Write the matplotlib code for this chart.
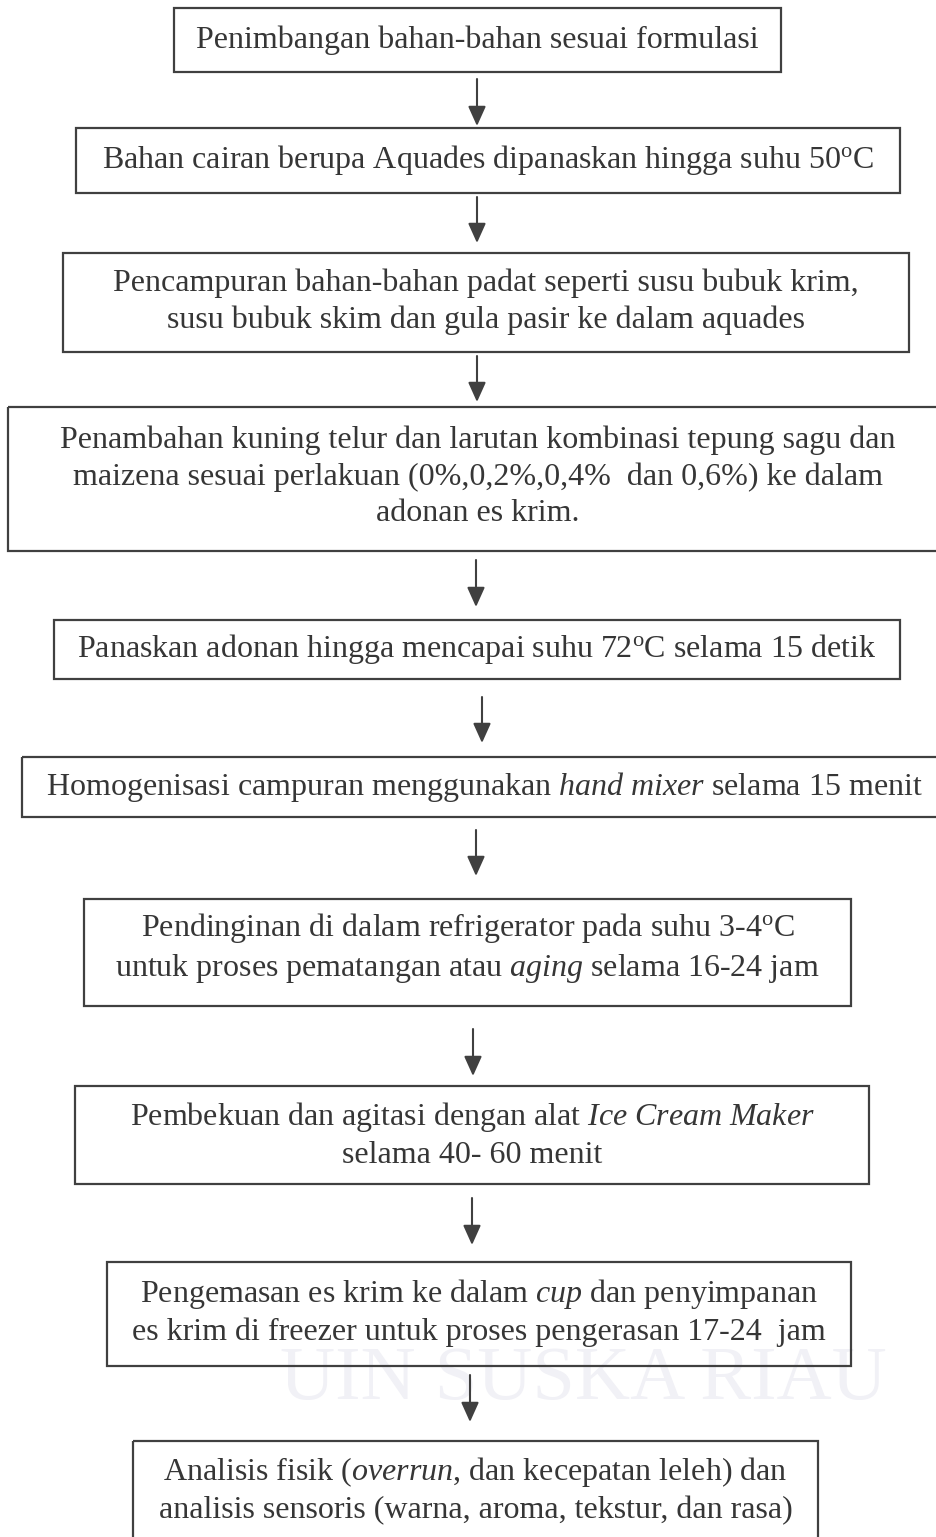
import matplotlib
matplotlib.use("Agg")
import matplotlib.pyplot as plt
from matplotlib.patches import Rectangle

plt.rcParams['font.family'] = ['Liberation Serif', 'DejaVu Serif']
plt.rcParams['mathtext.fontset'] = 'custom'
plt.rcParams['mathtext.rm'] = 'Liberation Serif'
plt.rcParams['mathtext.it'] = 'Liberation Serif:italic'
plt.rcParams['mathtext.default'] = 'rm'

# Step texts of the flowchart (top to bottom)
steps = [
    "Penimbangan bahan-bahan sesuai formulasi",
    "Bahan cairan berupa Aquades dipanaskan hingga suhu 50$^{\\mathrm{o}}$C",
    "Pencampuran bahan-bahan padat seperti susu bubuk krim,\nsusu bubuk skim dan gula pasir ke dalam aquades",
    "Penambahan kuning telur dan larutan kombinasi tepung sagu dan\nmaizena sesuai perlakuan (0%,0,2%,0,4%  dan 0,6%) ke dalam\nadonan es krim.",
    "Panaskan adonan hingga mencapai suhu 72$^{\\mathrm{o}}$C selama 15 detik",
    "Homogenisasi campuran menggunakan $\\mathit{hand\\ mixer}$ selama 15 menit",
    "Pendinginan di dalam refrigerator pada suhu 3-4$^{\\mathrm{o}}$C\nuntuk proses pematangan atau $\\mathit{aging}$ selama 16-24 jam",
    "Pembekuan dan agitasi dengan alat $\\mathit{Ice\\ Cream\\ Maker}$\nselama 40- 60 menit",
    "Pengemasan es krim ke dalam $\\mathit{cup}$ dan penyimpanan\nes krim di freezer untuk proses pengerasan 17-24  jam",
    "Analisis fisik ($\\mathit{overrun}$, dan kecepatan leleh) dan\nanalisis sensoris (warna, aroma, tekstur, dan rasa)",
]

# Layout: box (left, top, right, bottom) in pixels
boxes = [
    (174, 8, 781, 72),
    (76, 128, 900, 193),
    (63, 253, 909, 352),
    (8, 407, 948, 551),
    (54, 620, 900, 679),
    (22, 757, 946, 817),
    (84, 899, 851, 1006),
    (75, 1086, 869, 1184),
    (107, 1262, 851, 1366),
    (133, 1441, 818, 1540),
]
text_y = [40, 160, 302, 477, 649, 787, 948, 1135, 1312, 1490]
arrows = [
    (477, 79, 126), (477, 197, 243), (477, 356, 402), (476, 560, 607),
    (482, 697, 743), (476, 830, 876), (473, 1029, 1076), (472, 1198, 1245),
    (470, 1375, 1422),
]

W, H = 936, 1537
fig = plt.figure(figsize=(W / 100, H / 100), dpi=100)
ax = fig.add_axes([0, 0, 1, 1])
ax.set_xlim(0, W)
ax.set_ylim(H, 0)
ax.axis('off')

# faint watermark
ax.text(280, 1380, "UIN SUSKA RIAU", fontsize=55, color='#f1f1f6',
        ha='left', va='center', zorder=0)

edge = '#404040'
txtc = '#363636'
for (l, t, r, b), s, ty in zip(boxes, steps, text_y):
    ax.add_patch(Rectangle((l, t), r - l, b - t, fill=False, ec=edge, lw=1.6, zorder=2))
    ax.text((l + r) / 2, ty, s, ha='center', va='center', fontsize=23,
            color=txtc, linespacing=1.32, zorder=3)

for x, y0, y1 in arrows:
    ax.annotate('', xy=(x, y1), xytext=(x, y0),
                arrowprops=dict(arrowstyle='-|>,head_length=0.4,head_width=0.18',
                                mutation_scale=30, lw=1.5, color=edge,
                                shrinkA=0, shrinkB=0))

fig.savefig('out.png', dpi=100, facecolor='white')
